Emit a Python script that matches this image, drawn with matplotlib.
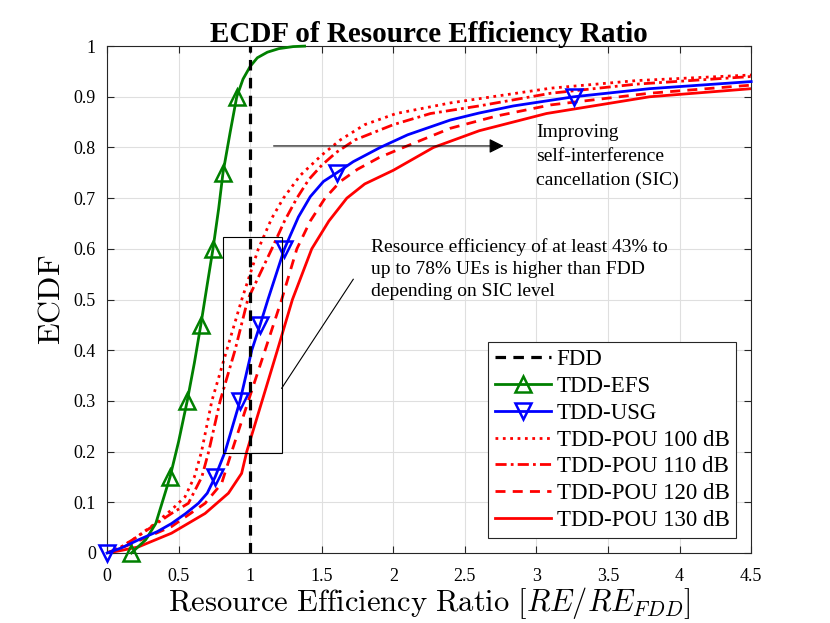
import matplotlib
matplotlib.use('Agg')
import matplotlib.pyplot as plt
from matplotlib.patches import Rectangle

plt.rcParams['font.family'] = ['Liberation Serif', 'DejaVu Serif']
plt.rcParams['mathtext.fontset'] = 'cm'

# TDD-EFS
efs_x = [0.17, 0.27, 0.34, 0.44, 0.50, 0.56, 0.61, 0.655, 0.70, 0.74, 0.78, 0.81, 0.86, 0.906,
         0.95, 1.0, 1.05, 1.12, 1.2, 1.3, 1.38]
efs_y = [0, 0.026, 0.058, 0.15, 0.22, 0.30, 0.375, 0.45, 0.53, 0.60, 0.68, 0.75, 0.83, 0.90,
         0.935, 0.96, 0.977, 0.988, 0.995, 0.999, 1.0]
efs_marks = [0, 3, 5, 7, 9, 11, 13]

# TDD-USG
usg_x = [0, 0.1, 0.22, 0.35, 0.45, 0.55, 0.638, 0.70, 0.755, 0.825, 0.929, 1.011, 1.069, 1.124,
         1.239, 1.337, 1.42, 1.512, 1.605, 1.72, 1.908, 2.1, 2.397, 2.6, 2.84, 3.26, 3.79, 4.5]
usg_y = [0, 0.01, 0.026, 0.042, 0.058, 0.078, 0.098, 0.118, 0.15, 0.2, 0.3, 0.4, 0.45, 0.5,
         0.6, 0.663, 0.703, 0.733, 0.75, 0.772, 0.8, 0.825, 0.854, 0.868, 0.882, 0.90, 0.916, 0.93]
usg_marks = [0, 8, 10, 12, 14, 18, 25]

# TDD-POU, different SIC levels
pou100_x = [0, 0.1, 0.2, 0.335, 0.45, 0.545, 0.61, 0.66, 0.732, 0.836, 0.941, 1.057, 1.15,
            1.232, 1.35, 1.5, 1.63, 1.8, 2.02, 2.4, 3.1, 3.7, 4.5]
pou100_y = [0, 0.012, 0.03, 0.058, 0.085, 0.111, 0.15, 0.2, 0.3, 0.4, 0.5, 0.6, 0.66,
            0.7, 0.745, 0.785, 0.815, 0.845, 0.867, 0.888, 0.917, 0.932, 0.943]

pou110_x = [0, 0.1, 0.2, 0.335, 0.45, 0.568, 0.662, 0.71, 0.79, 0.894, 0.983, 1.151, 1.24,
            1.326, 1.41, 1.5, 1.6, 1.733, 2.0, 2.26, 2.6, 3.1, 3.7, 4.5]
pou110_y = [0, 0.012, 0.03, 0.056, 0.078, 0.098, 0.15, 0.2, 0.3, 0.4, 0.5, 0.6, 0.655,
            0.7, 0.737, 0.765, 0.79, 0.815, 0.845, 0.867, 0.882, 0.907, 0.925, 0.94]

pou120_x = [0, 0.1, 0.22, 0.45, 0.685, 0.80, 0.871, 0.987, 1.104, 1.22, 1.326, 1.42, 1.523,
            1.63, 1.75, 1.9, 2.07, 2.4, 2.72, 3.1, 3.79, 4.5]
pou120_y = [0, 0.01, 0.024, 0.052, 0.098, 0.137, 0.2, 0.3, 0.4, 0.5, 0.6, 0.655, 0.7,
            0.733, 0.757, 0.78, 0.8, 0.838, 0.862, 0.884, 0.907, 0.923]

pou130_x = [0, 0.1, 0.219, 0.45, 0.685, 0.848, 0.94, 0.976, 1.083, 1.19, 1.295, 1.43, 1.55,
            1.675, 1.8, 2.0, 2.28, 2.6, 3.07, 3.79, 4.5]
pou130_y = [0, 0.005, 0.012, 0.039, 0.078, 0.118, 0.157, 0.2, 0.3, 0.4, 0.5, 0.6, 0.655,
            0.7, 0.728, 0.755, 0.8, 0.833, 0.867, 0.90, 0.916]

x_ticks = [0, 0.5, 1, 1.5, 2, 2.5, 3, 3.5, 4, 4.5]
y_ticks = [0, 0.1, 0.2, 0.3, 0.4, 0.5, 0.6, 0.7, 0.8, 0.9, 1]

fig = plt.figure(figsize=(8.3, 6.23), dpi=100)
ax = fig.add_axes([0.129, 0.1124, 0.776, 0.8136])

ax.plot([1, 1], [0, 1], color='k', lw=2.3, dashes=(3.3, 2.3), label='FDD', zorder=5)
ax.plot(efs_x, efs_y, color='#008000', lw=2, marker='^', ms=11, mfc='none', mew=1.8,
        markevery=efs_marks, label='TDD-EFS', clip_on=False, zorder=4)
ax.plot(usg_x, usg_y, color='#0000ff', lw=2, marker='v', ms=11, mfc='none', mew=1.8,
        markevery=usg_marks, label='TDD-USG', clip_on=False, zorder=4)
ax.plot(pou100_x, pou100_y, color='#ff0000', lw=2, linestyle=':', label='TDD-POU 100 dB')
ax.plot(pou110_x, pou110_y, color='#ff0000', lw=2, dashes=(4, 1.5, 1, 1.5), label='TDD-POU 110 dB')
ax.plot(pou120_x, pou120_y, color='#ff0000', lw=2, dashes=(3.6, 2.6), label='TDD-POU 120 dB')
ax.plot(pou130_x, pou130_y, color='#ff0000', lw=2, label='TDD-POU 130 dB')

# annotations
ax.add_patch(Rectangle((0.81, 0.197), 0.41, 0.427, fill=False, ec='k', lw=0.8, zorder=6))
ax.plot([1.22, 1.72], [0.325, 0.54], color='k', lw=0.8)
ax.annotate('', xy=(2.79, 0.803), xytext=(1.144, 0.803),
            arrowprops=dict(arrowstyle='-|>', color='k', lw=0.8, mutation_scale=22))
ax.text(3.0, 0.846, 'Improving\nself-interference\ncancellation (SIC)', fontsize=14,
        va='top', ha='left', linespacing=1.5)
ax.text(1.845, 0.622, 'Resource efficiency of at least 43% to\nup to 78% UEs is higher than FDD\n'
        'depending on SIC level', fontsize=14, va='top', ha='left', linespacing=1.4)

ax.set_xlim(0, 4.5)
ax.set_ylim(0, 1)
ax.set_xticks(x_ticks)
ax.set_xticklabels([f'{t:g}' for t in x_ticks])
ax.set_yticks(y_ticks)
ax.set_yticklabels([f'{t:g}' for t in y_ticks])
ax.tick_params(direction='in', top=True, right=True, labelsize=13, length=5, color='#262626')
ax.tick_params(axis='x', pad=11)
ax.tick_params(axis='y', pad=8)
ax.grid(True, color='#dfdfdf', lw=0.8)
ax.set_axisbelow(True)
for s in ax.spines.values():
    s.set_color('#262626')
    s.set_linewidth(0.8)

ax.set_title('ECDF of Resource Efficiency Ratio', fontsize=21, fontweight='bold', pad=3)
ax.set_xlabel(r'$\mathrm{Resource\ Efficiency\ Ratio}\ [RE/RE_{FDD}]$', fontsize=22, labelpad=0)
ax.set_ylabel(r'$\mathrm{ECDF}$', fontsize=23, labelpad=5)

leg = ax.legend(loc='lower right', bbox_to_anchor=(0.977, 0.03), fontsize=16.5, fancybox=False,
                framealpha=1, edgecolor='#262626', handlelength=2.45, borderpad=0.3,
                labelspacing=0.25, handletextpad=0.25, borderaxespad=0)
leg.get_frame().set_linewidth(0.8)

fig.savefig('out.png', dpi=100, facecolor='white')
